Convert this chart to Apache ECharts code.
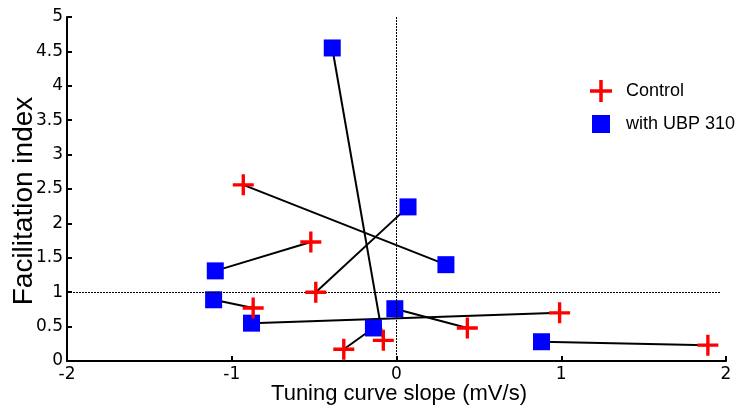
<!DOCTYPE html>
<html><head><meta charset="utf-8">
<script src="https://cdn.jsdelivr.net/npm/echarts@6/dist/echarts.min.js"></script>
<style>html,body{margin:0;padding:0;background:#fff}#c{width:738px;height:408px}</style>
</head><body><div id="c"></div>
<script>
// Paired measurements: control (red plus) -> with UBP 310 (blue square)
const controlX = [-0.08, -0.32, -0.93, -0.52, -0.49, -0.87, 0.99, 0.43, 1.89];
const controlY = [0.30, 0.17, 2.56, 1.73, 1.00, 0.77, 0.70, 0.48, 0.23];
const ubpX = [-0.39, -0.14, 0.30, -1.10, 0.07, -1.11, -0.88, -0.01, 0.88];
const ubpY = [4.55, 0.48, 1.40, 1.31, 2.24, 0.89, 0.55, 0.76, 0.28];
const xTicks = [-2, -1, 0, 1, 2];
const yTicks = [0, 0.5, 1, 1.5, 2, 2.5, 3, 3.5, 4, 4.5, 5];

const PLUS = 'path://M4.2,0h1.6v4.2h4.2v1.6h-4.2v4.2h-1.6v-4.2h-4.2v-1.6h4.2z';
const LEGEND_SQUARE = 'path://M2,2h18v18h-18z M0,0h0.01v0.01h-0.01z M22,22h-0.01v-0.01h0.01z';
const FONT = 'Liberation Sans, Arial, sans-serif';
const TICK_FONT = 'DejaVu Sans, sans-serif';

const series = [];
controlX.forEach((cx, i) => {
  series.push({
    type: 'line', silent: true, symbol: 'none', z: 2,
    lineStyle: { color: '#000', width: 2 },
    data: [[cx, controlY[i]], [ubpX[i], ubpY[i]]]
  });
});
series.push({
  type: 'line', silent: true, symbol: 'none', data: [],
  markLine: {
    silent: true, symbol: 'none', label: { show: false },
    lineStyle: { color: '#000', width: 1, type: [2, 1] },
    data: [
      [{ coord: [-2, 1] }, { coord: [1.965, 1] }],
      [{ coord: [0, 0] }, { coord: [0, 5] }]
    ]
  }
});
series.push({
  name: 'Control', type: 'scatter', z: 5, symbol: PLUS, symbolSize: 21,
  itemStyle: { color: '#ff0000', opacity: 1 },
  data: controlX.map((x, i) => [x, controlY[i]])
});
series.push({
  name: 'with UBP 310', type: 'scatter', z: 4, symbol: 'rect', symbolSize: 17,
  itemStyle: { color: '#0000ff', opacity: 1 },
  data: ubpX.map((x, i) => [x, ubpY[i]])
});

const chart = echarts.init(document.getElementById('c'));
chart.setOption({
  animation: false,
  backgroundColor: '#fff',
  grid: { left: 67, right: 12, top: 17, bottom: 47, containLabel: false, outerBoundsMode: 'none' },
  legend: {
    orient: 'vertical', left: 585, top: 75, itemGap: 11, itemWidth: 22, itemHeight: 22,
    textStyle: { fontFamily: FONT, fontSize: 18, color: '#000', padding: [0, 0, 0, 9] },
    data: [
      { name: 'Control', icon: PLUS },
      { name: 'with UBP 310', icon: LEGEND_SQUARE }
    ]
  },
  xAxis: {
    type: 'value', min: -2, max: 2, interval: 1,
    name: 'Tuning curve slope (mV/s)', nameLocation: 'middle', nameGap: 22, nameMoveOverlap: false,
    nameTextStyle: { fontFamily: FONT, fontSize: 22, color: '#000', padding: [0, 0, 0, 5] },
    axisLine: { show: true, onZero: false, lineStyle: { color: '#000', width: 2 } },
    axisTick: { show: true, inside: true, length: 5, lineStyle: { color: '#000', width: 2 } },
    axisLabel: { fontFamily: TICK_FONT, fontSize: 17, color: '#000', margin: 5,
      formatter: v => xTicks.includes(v) ? String(v) : '' },
    splitLine: { show: false }
  },
  yAxis: {
    type: 'value', min: 0, max: 5, interval: 0.5,
    name: 'Facilitation index', nameLocation: 'middle', nameGap: 29, nameRotate: 90, nameMoveOverlap: false,
    nameTextStyle: { fontFamily: FONT, fontSize: 28, color: '#000', padding: [0, 24, 0, 0] },
    axisLine: { show: true, onZero: false, lineStyle: { color: '#000', width: 2 } },
    axisTick: { show: true, inside: true, length: 5, lineStyle: { color: '#000', width: 2 } },
    axisLabel: { fontFamily: TICK_FONT, fontSize: 17, color: '#000', margin: 4,
      formatter: v => yTicks.includes(v) ? String(v) : '' },
    splitLine: { show: false }
  },
  series
});
</script></body></html>
